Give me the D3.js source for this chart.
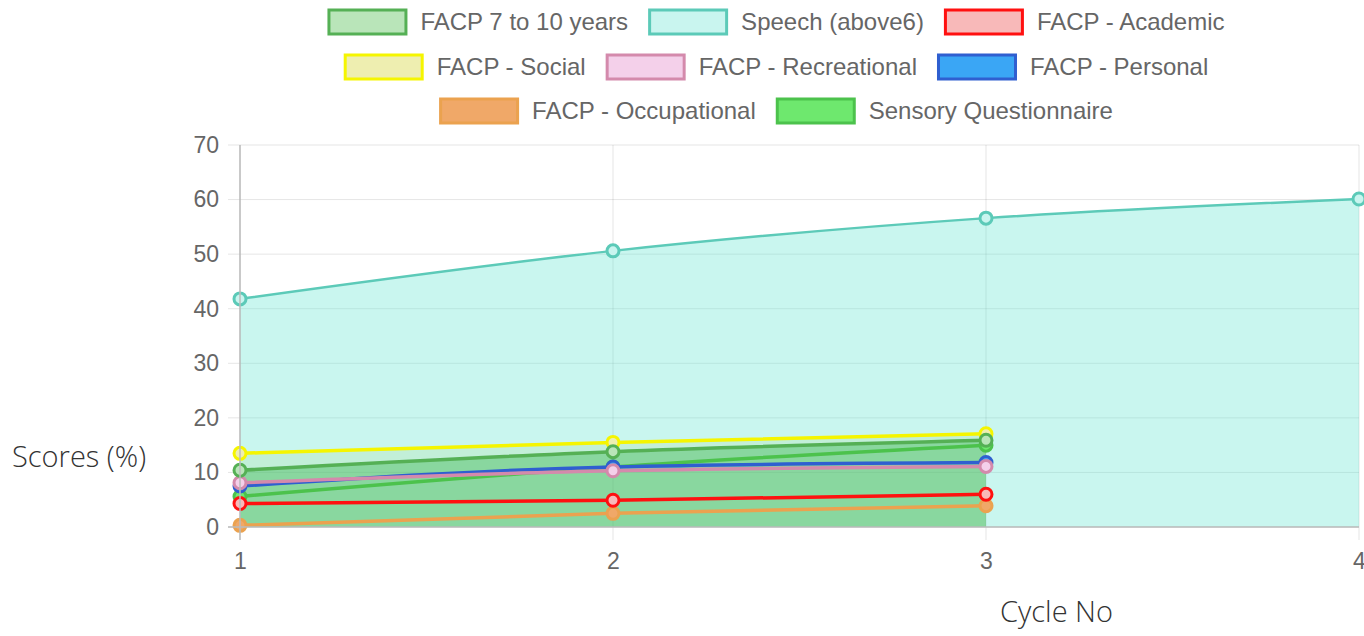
<!DOCTYPE html>
<html>
<head>
<meta charset="utf-8">
<script src="https://cdn.jsdelivr.net/npm/d3@7"></script>
<style>
  body { margin: 0; background: #fff; }
  svg { display: block; }
</style>
</head>
<body>
<div id="chart"></div>
<script>
// data
const cycles = [1, 2, 3, 4];
const seriesNames = ['FACP 7 to 10 years', 'Speech (above6)', 'FACP - Academic', 'FACP - Social',
    'FACP - Recreational', 'FACP - Personal', 'FACP - Occupational', 'Sensory Questionnaire'];
const facp710 = [10.4, 13.8, 15.9];
const speech = [41.8, 50.6, 56.6, 60.1];
const academic = [4.3, 4.9, 6.0];
const social = [13.5, 15.5, 17.1];
const recreational = [8.1, 10.3, 11.1];
const personal = [7.5, 11.0, 11.8];
const occupational = [0.3, 2.5, 3.9];
const sensory = [5.6, 11.0, 15.0];
const yTicks = [0, 10, 20, 30, 40, 50, 60, 70];

// line / box colours per series
const borderColors = ['#55b055', '#5ccab8', '#ff1010', '#f5f500', '#d48aac', '#2f5fd0', '#eba24f', '#4cc24c'];
const boxColors = ['#b9e5b9', '#c9f5ef', '#f8b9b9', '#eeeeb0', '#f4d0ea', '#3aa6f5', '#f0a868', '#6ee86e'];
const areaColors = ['rgba(60,180,80,0.42)', 'rgba(100,230,210,0.35)', null, 'rgba(200,200,80,0.2)', null, null, null, null];
const allValues = [facp710, speech, academic, social, recreational, personal, occupational, sensory];

const W = 1364, H = 636;
const svg = d3.select('#chart').append('svg').attr('width', W).attr('height', H);

const x = d3.scaleLinear().domain([1, 4]).range([240, 1359]);
const y = d3.scaleLinear().domain([0, 70]).range([527, 145]);

// grid
svg.append('g').selectAll('line').data(yTicks).join('line')
    .attr('x1', 228).attr('x2', 1359)
    .attr('y1', d => y(d)).attr('y2', d => y(d))
    .style('stroke', 'rgba(0,0,0,0.1)').style('stroke-width', 1);
svg.append('g').selectAll('line').data(cycles).join('line')
    .attr('x1', d => x(d)).attr('x2', d => x(d))
    .attr('y1', 145).attr('y2', 540)
    .style('stroke', 'rgba(0,0,0,0.1)').style('stroke-width', 1);

// y axis
const yAxis = svg.append('g')
    .attr('transform', 'translate(240,0)')
    .call(d3.axisLeft(y).tickValues(yTicks).tickSize(0).tickPadding(21));
yAxis.select('.domain').remove();
yAxis.selectAll('text')
    .style('font-family', '"Liberation Sans", Arial, sans-serif')
    .style('font-size', '23px').style('fill', '#666');

// x axis
const xAxis = svg.append('g')
    .attr('transform', 'translate(0,527)')
    .call(d3.axisBottom(x).tickValues(cycles).tickFormat(d3.format('d')).tickSize(0).tickPadding(26));
xAxis.select('.domain').remove();
xAxis.selectAll('text')
    .style('font-family', '"Liberation Sans", Arial, sans-serif')
    .style('font-size', '23px').style('fill', '#666');

const plot = svg.append('g');

const area = d3.area()
    .x((d, i) => x(cycles[i]))
    .y0(y(0))
    .y1(d => y(d))
    .curve(d3.curveMonotoneX);
const line = d3.line()
    .x((d, i) => x(cycles[i]))
    .y(d => y(d))
    .curve(d3.curveMonotoneX);

// fills first (last dataset at the back, as Chart.js does)
const order = d3.range(allValues.length).reverse();
order.forEach(k => {
    if (areaColors[k]) {
        plot.append('path')
            .attr('d', area(allValues[k]))
            .style('fill', areaColors[k]);
    }
});

// axis lines over the fills
svg.append('line').attr('x1', 240).attr('x2', 240).attr('y1', 145).attr('y2', 540)
    .style('stroke', '#bbb').style('stroke-width', 1.5);
svg.append('line').attr('x1', 228).attr('x2', 1359).attr('y1', 527).attr('y2', 527)
    .style('stroke', '#bbb').style('stroke-width', 1.5);

order.forEach(k => {
    plot.append('path')
        .attr('d', line(allValues[k]))
        .style('fill', 'none')
        .style('stroke', borderColors[k])
        .style('stroke-width', k === 1 ? 2.5 : 3.5);
    plot.append('g').selectAll('circle').data(allValues[k]).join('circle')
        .attr('cx', (d, i) => x(cycles[i]))
        .attr('cy', d => y(d))
        .attr('r', 6)
        .style('fill', boxColors[k])
        .style('stroke', borderColors[k])
        .style('stroke-width', 3);
});

// legend, rows centred like Chart.js
const legendRows = [[0, 1, 2], [3, 4, 5], [6, 7]];
const rowY = [22, 67, 111];
const legendCenter = 776;
const legend = svg.append('g');
legendRows.forEach((row, r) => {
    const g = legend.append('g');
    let cx = 0;
    row.forEach(k => {
        g.append('rect')
            .attr('x', cx + 1.5).attr('y', rowY[r] - 12)
            .attr('width', 77).attr('height', 24)
            .style('fill', boxColors[k])
            .style('stroke', borderColors[k])
            .style('stroke-width', 3);
        const t = g.append('text')
            .attr('x', cx + 93).attr('y', rowY[r])
            .attr('dy', '0.35em')
            .style('font-family', '"Liberation Sans", Arial, sans-serif')
            .style('font-size', '24px')
            .style('fill', '#666')
            .text(seriesNames[k]);
        cx += 93 + t.node().getComputedTextLength() + 20;
    });
    const rowW = cx - 20;
    g.attr('transform', `translate(${legendCenter - rowW / 2},0)`);
});

// axis titles
svg.append('text')
    .attr('x', 12).attr('y', 457).attr('dy', '0.35em')
    .style('font-family', '"Open Sans", "Noto Sans", sans-serif')
    .style('font-size', '29px').style('font-weight', 300).style('fill', '#333')
    .text('Scores (%)');
svg.append('text')
    .attr('x', 1000).attr('y', 612).attr('dy', '0.35em')
    .style('font-family', '"Open Sans", "Noto Sans", sans-serif')
    .style('font-size', '29px').style('font-weight', 300).style('fill', '#333')
    .text('Cycle No');
</script>
</body>
</html>
